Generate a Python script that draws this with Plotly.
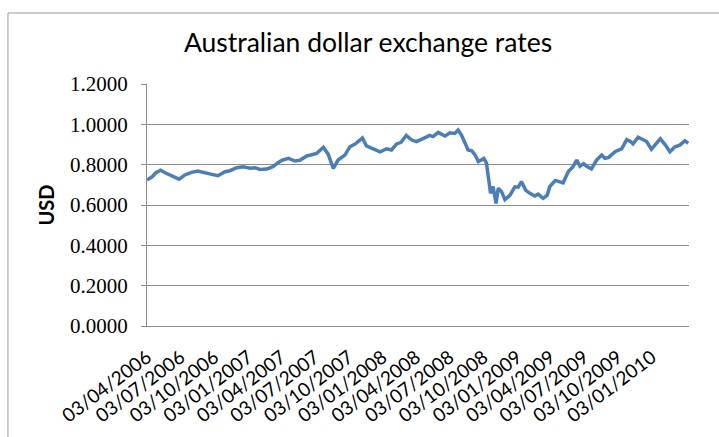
import plotly.graph_objects as go

dates = [
    "2006-04-03", "2006-04-17", "2006-04-27", "2006-05-10", "2006-05-22", "2006-06-09",
    "2006-06-29", "2006-07-15", "2006-08-02", "2006-08-19", "2006-09-07", "2006-09-26",
    "2006-10-13", "2006-11-01", "2006-11-14", "2006-12-03", "2006-12-20", "2007-01-08",
    "2007-01-21", "2007-02-04", "2007-02-22", "2007-03-11", "2007-03-25", "2007-04-05",
    "2007-04-22", "2007-05-10", "2007-05-23", "2007-06-11", "2007-06-22", "2007-07-08",
    "2007-07-26", "2007-08-08", "2007-08-22", "2007-09-04", "2007-09-23", "2007-10-06",
    "2007-10-20", "2007-11-09", "2007-11-20", "2007-12-08", "2007-12-27", "2008-01-14",
    "2008-01-27", "2008-02-10", "2008-02-22", "2008-03-07", "2008-03-22", "2008-04-04",
    "2008-04-22", "2008-05-10", "2008-05-19", "2008-06-02", "2008-06-20", "2008-07-04",
    "2008-07-17", "2008-07-26", "2008-08-04", "2008-08-13", "2008-08-22", "2008-09-01",
    "2008-09-10", "2008-09-19", "2008-09-28", "2008-10-04", "2008-10-11", "2008-10-18",
    "2008-10-22", "2008-10-29", "2008-11-06", "2008-11-12", "2008-11-21", "2008-11-30",
    "2008-12-14", "2008-12-27", "2009-01-05", "2009-01-14", "2009-01-25", "2009-02-06",
    "2009-02-19", "2009-02-28", "2009-03-14", "2009-03-25", "2009-04-01", "2009-04-16",
    "2009-04-28", "2009-05-07", "2009-05-21", "2009-06-03", "2009-06-13", "2009-06-22",
    "2009-07-02", "2009-07-10", "2009-07-23", "2009-08-06", "2009-08-20", "2009-08-29",
    "2009-09-08", "2009-09-25", "2009-10-13", "2009-10-27", "2009-11-07", "2009-11-13",
    "2009-11-27", "2009-12-10", "2009-12-20", "2010-01-02", "2010-01-16", "2010-01-26",
    "2010-02-09", "2010-02-21", "2010-03-07", "2010-03-20", "2010-04-03", "2010-04-12",
]

usd = [
    0.724, 0.740, 0.760, 0.772, 0.760, 0.744,
    0.728, 0.749, 0.762, 0.768, 0.762, 0.752,
    0.745, 0.765, 0.770, 0.785, 0.790, 0.782,
    0.785, 0.776, 0.778, 0.790, 0.810, 0.822,
    0.831, 0.818, 0.822, 0.843, 0.848, 0.856,
    0.886, 0.852, 0.782, 0.823, 0.849, 0.889,
    0.902, 0.932, 0.893, 0.881, 0.864, 0.879,
    0.873, 0.903, 0.911, 0.945, 0.922, 0.914,
    0.930, 0.945, 0.939, 0.960, 0.942, 0.958,
    0.955, 0.972, 0.947, 0.914, 0.873, 0.869,
    0.848, 0.815, 0.826, 0.831, 0.807, 0.716,
    0.658, 0.691, 0.608, 0.683, 0.666, 0.627,
    0.649, 0.690, 0.688, 0.716, 0.674, 0.658,
    0.645, 0.654, 0.633, 0.649, 0.692, 0.722,
    0.716, 0.710, 0.765, 0.790, 0.823, 0.792,
    0.805, 0.792, 0.779, 0.823, 0.848, 0.831,
    0.836, 0.864, 0.878, 0.924, 0.914, 0.903,
    0.936, 0.926, 0.915, 0.876, 0.909, 0.929,
    0.897, 0.864, 0.889, 0.897, 0.919, 0.906,
]

tick_dates = [
    "2006-04-03", "2006-07-03", "2006-10-03", "2007-01-03", "2007-04-03", "2007-07-03",
    "2007-10-03", "2008-01-03", "2008-04-03", "2008-07-03", "2008-10-03", "2009-01-03",
    "2009-04-03", "2009-07-03", "2009-10-03", "2010-01-03",
]
tick_labels = [
    "03/04/2006", "03/07/2006", "03/10/2006", "03/01/2007", "03/04/2007", "03/07/2007",
    "03/10/2007", "03/01/2008", "03/04/2008", "03/07/2008", "03/10/2008", "03/01/2009",
    "03/04/2009", "03/07/2009", "03/10/2009", "03/01/2010",
]

y_ticks = [0.0, 0.2, 0.4, 0.6, 0.8, 1.0, 1.2]

fig = go.Figure(
    go.Scatter(
        x=dates, y=usd, mode="lines",
        line=dict(color="#4A7EBB", width=3.5),
        hoverinfo="x+y",
    )
)

fig.update_layout(
    width=719, height=437,
    margin=dict(l=147, r=30, t=84, b=111, autoexpand=False),
    paper_bgcolor="white", plot_bgcolor="white",
    showlegend=False,
    title=dict(
        text="Australian dollar exchange rates",
        x=368 / 719, xanchor="center", xref="container",
        y=1 - 43 / 437, yanchor="middle", yref="container",
        font=dict(family="Lato", size=26.5, color="black"),
    ),
    shapes=[
        dict(type="rect", xref="paper", yref="paper",
             x0=-0.2565, x1=1.1, y0=-0.7, y1=1.2934,
             line=dict(color="#9A9A9A", width=1), fillcolor="rgba(0,0,0,0)", layer="below"),
    ],
)

fig.update_xaxes(
    type="date",
    range=["2006-04-03", "2010-04-14"],
    tickmode="array", tickvals=tick_dates, ticktext=tick_labels,
    tickangle=-37,
    showgrid=False, zeroline=False,
    showline=True, linecolor="#8E8E8E", linewidth=1,
    ticks="",
    tickfont=dict(family="Lato", size=19, color="black"),
    ticklabelstandoff=12,
    automargin=False,
)

fig.update_yaxes(
    range=[0, 1.2],
    tickmode="array", tickvals=y_ticks,
    tickformat=".4f",
    showgrid=True, gridcolor="#8E8E8E", gridwidth=1,
    zeroline=False,
    showline=True, linecolor="#8E8E8E", linewidth=1,
    ticks="outside", ticklen=5, tickcolor="#8E8E8E",
    tickfont=dict(family="Liberation Serif", size=21, color="black"),
    ticklabelstandoff=9,
    title=dict(text="USD", font=dict(family="Lato", size=20, color="black", weight="bold"), standoff=10),
    automargin=False,
)

fig.write_html(
    "out.html",
    config={"displayModeBar": False},
    post_script="document.body.style.margin='0';document.body.style.overflow='hidden';",
)
